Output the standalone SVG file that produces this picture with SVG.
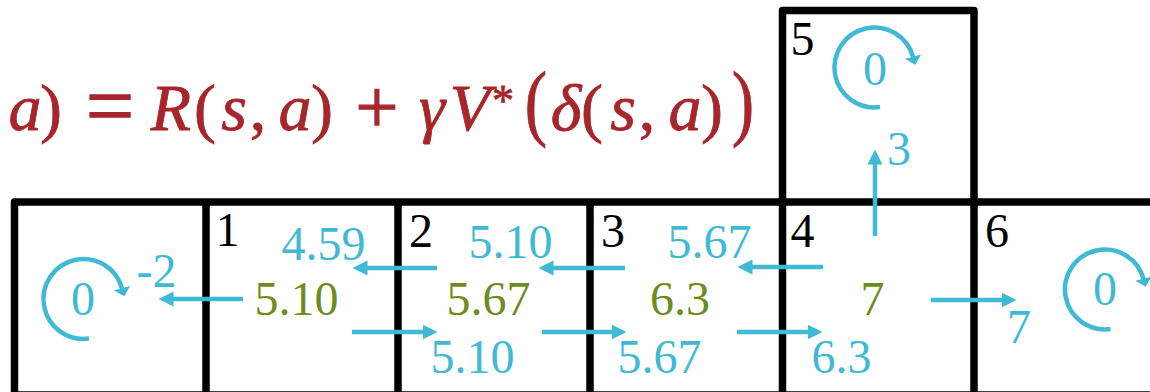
<svg xmlns="http://www.w3.org/2000/svg" width="1150" height="392" viewBox="0 0 1150 392">
<style>
.grid{fill:none;stroke:#000;stroke-width:7.5;stroke-linejoin:round}
.num{font-family:"Liberation Serif","Times New Roman",serif;font-size:48px;text-anchor:middle}
.k{fill:#000}
.b{fill:#40B9D5}
.g{fill:#6E8C1E}
.f{font-family:"Liberation Serif","Times New Roman",serif;fill:#A6262B;stroke:#A6262B;stroke-width:0.8;text-anchor:middle;font-size:66px}
.fi{font-style:italic}
.op{stroke-width:1.3}
.arr{fill:none;stroke:#40B9D5;stroke-width:4.5;marker-end:url(#ah)}
.loop{fill:none;stroke:#40B9D5;stroke-width:4.5;marker-end:url(#lh)}
</style>
<defs>
<marker id="ah" markerUnits="userSpaceOnUse" markerWidth="16" markerHeight="16" refX="0.5" refY="7.5" orient="auto" viewBox="0 0 16 16"><path d="M0,0 L15,7.5 L0,15 z" fill="#40B9D5"/></marker>
<marker id="lh" markerUnits="userSpaceOnUse" markerWidth="18" markerHeight="18" refX="0.5" refY="8.5" orient="auto" viewBox="0 0 18 18"><path d="M0,0 L8.5,8.5 L0,17 z" fill="#40B9D5"/></marker>
<path id="loopPath" d="M5.5,39.6 A40,40 0 1 1 38.6,-10.4"/>
</defs>

<g id="formula">
<text class="f fi" x="25" y="130">a</text>
<text class="f" x="51" y="130">)</text>
<text class="f op" x="110" y="135" style="font-size:86px">=</text>
<text class="f fi" x="171" y="130">R</text>
<text class="f" x="205" y="130">(</text>
<text class="f fi" x="234" y="130">s</text>
<text class="f" x="258" y="130">,</text>
<text class="f fi" x="295" y="130">a</text>
<text class="f" x="322" y="130">)</text>
<text class="f op" x="377" y="132" style="font-size:76px">+</text>
<text class="f fi" x="432" y="130">γ</text>
<text class="f fi" x="470" y="130">V</text>
<text class="f" x="503" y="115" style="font-size:44px">*</text>
<text class="f" transform="translate(536,130) scale(0.8,1)" style="font-size:84px">(</text>
<text class="f fi" x="566" y="130">δ</text>
<text class="f" x="592" y="130">(</text>
<text class="f fi" x="623" y="130">s</text>
<text class="f" x="647" y="130">,</text>
<text class="f fi" x="685" y="130">a</text>
<text class="f" x="712" y="130">)</text>
<text class="f" transform="translate(743,130) scale(0.8,1)" style="font-size:84px">)</text>
</g>

<g id="grid">
<path class="grid" d="M1160,202 L14.5,202 L14.5,400"/>
<path class="grid" d="M14.5,395 L1160,395"/>
<path class="grid" d="M206,202 V400 M398,202 V400 M590,202 V400 M974,202 V400"/>
<path class="grid" d="M782.5,400 V10.5 H974 V202"/>
</g>

<g id="cell0">
<use href="#loopPath" class="loop" transform="translate(83.5,299)"/>
<text class="num b" x="83" y="315">0</text>
<text class="num b" x="156.5" y="287">-2</text>
</g>
<g id="cell1">
<text class="num k" x="227.5" y="246">1</text>
<text class="num b" x="323.5" y="260">4.59</text>
<text class="num g" x="296.5" y="315">5.10</text>
</g>
<g id="cell2">
<text class="num k" x="421" y="247">2</text>
<text class="num b" x="510.5" y="258">5.10</text>
<text class="num g" x="488.5" y="315">5.67</text>
<text class="num b" x="472.5" y="373">5.10</text>
</g>
<g id="cell3">
<text class="num k" x="613" y="247">3</text>
<text class="num b" x="709.5" y="258">5.67</text>
<text class="num g" x="680" y="315">6.3</text>
<text class="num b" x="659.5" y="373">5.67</text>
</g>
<g id="cell4">
<text class="num k" x="802.5" y="247">4</text>
<text class="num g" x="872.5" y="315">7</text>
<text class="num b" x="841.5" y="373">6.3</text>
</g>
<g id="cell5">
<text class="num k" x="802.5" y="55">5</text>
<use href="#loopPath" class="loop" transform="translate(874.5,67.5)"/>
<text class="num b" x="875" y="85">0</text>
<text class="num b" x="899" y="165">3</text>
</g>
<g id="cell6">
<text class="num k" x="997" y="247">6</text>
<use href="#loopPath" class="loop" transform="translate(1105,289.5)"/>
<text class="num b" x="1105" y="305">0</text>
<text class="num b" x="1019" y="343">7</text>
</g>

<g id="connectors">
<path class="arr" d="M243,299 H173"/>
<path class="arr" d="M437,268 H367"/>
<path class="arr" d="M352,332 H423"/>
<path class="arr" d="M625,268 H553"/>
<path class="arr" d="M542,332 H612"/>
<path class="arr" d="M823,267 H752"/>
<path class="arr" d="M737,332 H808"/>
<path class="arr" d="M875,236 V164"/>
<path class="arr" d="M931,300 H1002"/>
</g>
</svg>
